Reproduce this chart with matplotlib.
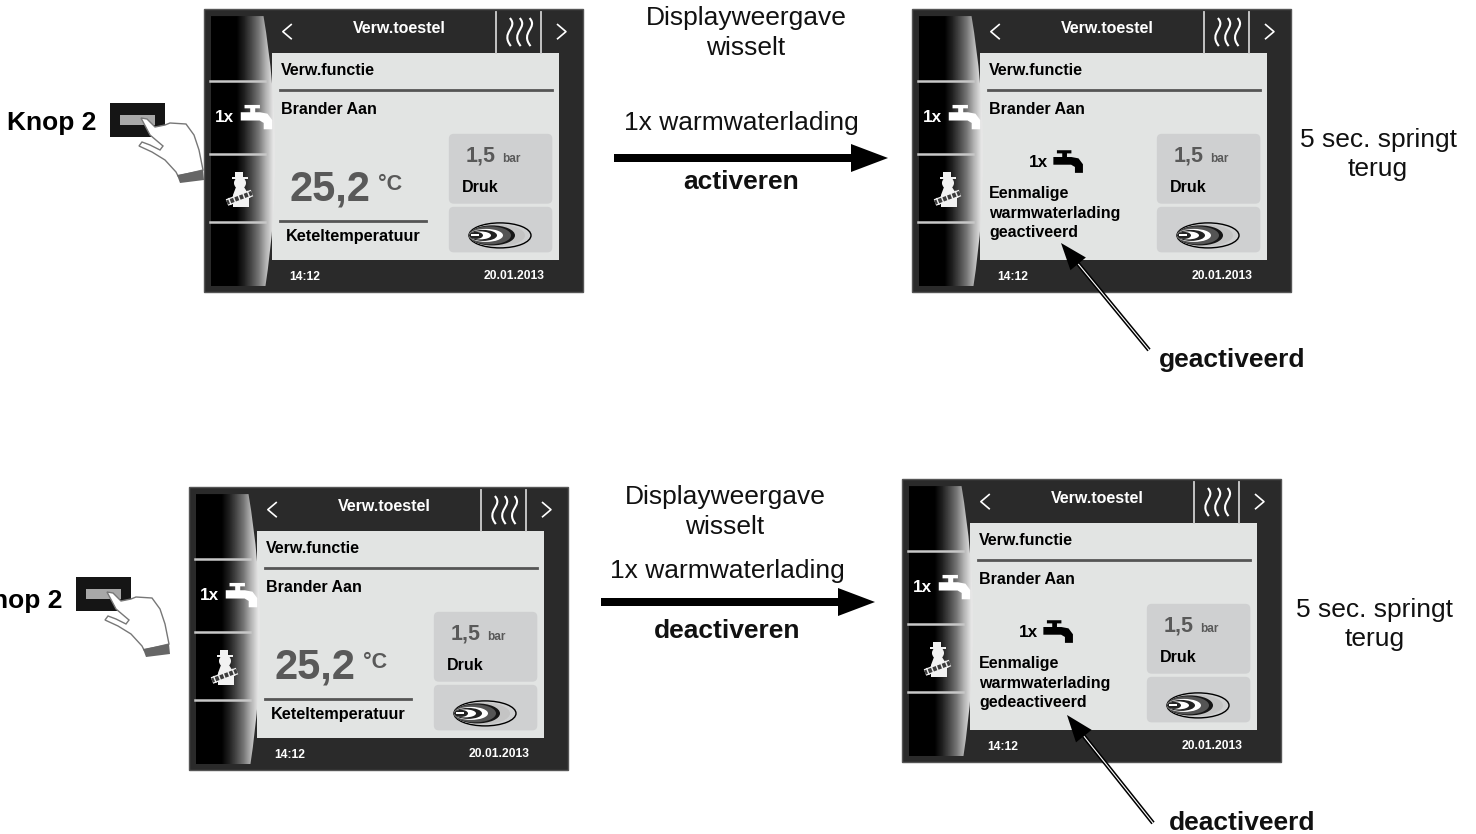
#!/usr/bin/env python
"""Two rows of boiler display screens: hot water charge on and off."""
import matplotlib

matplotlib.use("Agg")
import matplotlib.pyplot as plt
import numpy as np
from matplotlib.patches import Ellipse, FancyBboxPatch, PathPatch, Polygon, Rectangle
from matplotlib.path import Path

plt.rcParams["font.family"] = ["Liberation Sans", "DejaVu Sans"]

# texts shown on the screens
header_title = "Verw.toestel"
screen_function = "Verw.functie"
screen_state = "Brander Aan"
temp_value = "25,2"
temp_unit = "°C"
temp_label = "Keteltemperatuur"
pressure_value = "1,5"
pressure_unit = "bar"
pressure_label = "Druk"
clock_time = "14:12"
clock_date = "20.01.2013"
charge_label = "1x"

# texts around the screens
button_label = "Knop 2"
display_changes = ["Displayweergave", "wisselt"]
charge_action = "1x warmwaterlading"
verbs = ["activeren", "deactiveren"]
jump_back = ["5 sec. springt", "terug"]
results = ["geactiveerd", "deactiveerd"]
message_top = ["Eenmalige", "warmwaterlading", "geactiveerd"]
message_bottom = ["Eenmalige", "warmwaterlading", "gedeactiveerd"]

W, H = 379, 283
BG = "#2a2a2a"
SCREEN = "#e2e4e3"
BOX = "#cfd0d1"
GREY_TXT = "#595959"

fig = plt.figure(figsize=(14.76, 8.34), dpi=100)
ax = fig.add_axes([0, 0, 1, 1])
ax.set_axis_off()


def draw_tap(x, y, w, h, color):
    # tap outline, in 0..1 units of its box
    verts = [(.12, 0), (.61, 0), (.61, .14), (.46, .14), (.46, .3), (.61, .3),
             (.85, .36), (1, .62), (1, 1), (.73, 1), (.73, .74), (.6, .64),
             (0, .64), (0, .3), (.3, .3), (.3, .14), (.12, .14)]
    ax.add_patch(Polygon([(x + a * w, y + b * h) for a, b in verts], fc=color, ec="none", zorder=6))


def draw_snowman(x0, y0):
    white = "#f2f2f2"
    ax.add_patch(Rectangle((x0 + 31, y0 + 163), 8, 6, fc=white, ec="none", zorder=6))
    ax.add_patch(Rectangle((x0 + 28, y0 + 167.5), 16, 2, fc=white, ec="none", zorder=6))
    ax.add_patch(Ellipse((x0 + 36, y0 + 174), 12, 12, fc=white, ec="none", zorder=6))
    body = [(32, 178), (40, 178), (45, 186), (45, 198), (29, 198), (29, 186)]
    ax.add_patch(Polygon([(x0 + a, y0 + b) for a, b in body], fc=white, ec="none", zorder=6))
    # ladder across the body
    p1, p2 = np.array([x0 + 23, y0 + 193.5]), np.array([x0 + 48, y0 + 184])
    xs, ys = zip(p1, p2)
    ax.plot(xs, ys, color=white, lw=5, solid_capstyle="butt", zorder=7)
    ax.plot(xs, ys, color="#3c3c3c", lw=3.2, solid_capstyle="butt", zorder=7)
    u = (p2 - p1) / np.hypot(*(p2 - p1))
    n = np.array([-u[1], u[0]])
    for t in [3, 8, 13, 18, 23]:
        a = p1 + u * t + n * 3
        b = p1 + u * t - n * 3
        ax.plot([a[0], b[0]], [a[1], b[1]], color=white, lw=1, zorder=7)


def draw_flame(cx, cy):
    # nested ellipses, all starting from the same left end
    left = cx - 31
    layers = [(62, 25, BOX, "black"), (56, 22, "#c4c4c4", "none"), (46, 20, "#161616", "none"),
              (42, 18, "#555555", "none"), (34, 13, "white", "none"), (28, 11, "#222222", "none"),
              (22, 8, "white", "none"), (14, 7, "#222222", "none")]
    for w, h, fc, ec in layers:
        ax.add_patch(Ellipse((left + w / 2, cy), w, h, fc=fc, ec=ec, lw=1, zorder=6))
    ax.add_patch(Rectangle((left + 2, cy - 1), 8, 2, fc="white", ec="none", zorder=7))


def draw_waves(x0, y0):
    for f in [.807, .833, .859]:
        x = x0 + f * W
        y = y0 + .032 * H
        verts = [(x, y), (x + 9, y + 10), (x - 10, y + 14), (x + 1, y + 28)]
        codes = [Path.MOVETO, Path.CURVE4, Path.CURVE4, Path.CURVE4]
        ax.add_patch(PathPatch(Path(verts, codes), fc="none", ec="white", lw=1.5, zorder=6))


def draw_panel(x0, y0, message=None):
    fx = lambda f: x0 + f * W
    fy = lambda f: y0 + f * H

    def label(f_x, f_y, s, size, color="black", ha="left", weight="bold"):
        ax.text(fx(f_x), fy(f_y) + 1.2, s, fontsize=size, color=color, ha=ha, va="center", weight=weight, zorder=8)

    ax.add_patch(Rectangle((x0, y0), W, H, fc=BG, ec="#555555", lw=1, zorder=1))
    ax.add_patch(Rectangle((fx(.18), fy(.156)), .756 * W, .73 * H, fc=SCREEN, ec="none", zorder=2))

    # left strip with its bulging right edge, black fading to light
    strip = Path([(fx(.018), fy(.025)), (fx(.157), fy(.025)), (fx(.217), fy(.5)), (fx(.162), fy(.98)),
                  (fx(.018), fy(.98)), (fx(.018), fy(.025))],
                 [Path.MOVETO, Path.LINETO, Path.CURVE3, Path.CURVE3, Path.LINETO, Path.CLOSEPOLY])
    patch = PathPatch(strip, fc="none", ec="none", zorder=3)
    ax.add_patch(patch)
    grad = np.array([[0, 0, 0, 0, .12, .28, .46, .7, .9]])
    im = ax.imshow(grad, cmap="gray", vmin=0, vmax=1, extent=(fx(.018), fx(.19), fy(.98), fy(.025)),
                   aspect="auto", interpolation="bilinear", zorder=3)
    im.set_clip_path(patch)

    for f in [.253, .514, .752]:
        ax.plot([fx(.017), fx(.16)], [fy(f), fy(f)], color="#c8c8c8", lw=1.8, zorder=5)
    for f in [.77, .888]:
        ax.plot([fx(f), fx(f)], [fy(.012), fy(.154)], color="#d0d0d0", lw=1.3, zorder=5)
    for tip, back in [(.208, .23), (.955, .933)]:
        ax.plot([fx(back), fx(tip), fx(back)], [fy(.055), fy(.08), fy(.105)], color="white", lw=1.2, zorder=6)
    draw_waves(x0, y0)

    label(.516, .066, header_title, 11.5, "white", "center")
    label(.203, .213, screen_function, 11.5)
    label(.204, .35, screen_state, 11.5)
    ax.plot([fx(.2), fx(.917)], [fy(.287), fy(.287)], color="#555555", lw=2, zorder=5)

    label(.053, .38, charge_label, 12.3, "white", "center")
    draw_tap(fx(.097), fy(.339), .083 * W, .086 * H, "white")
    draw_snowman(x0, y0)

    # pressure and flame boxes
    for top, bottom in [(.441, .688), (.699, .86)]:
        ax.add_patch(FancyBboxPatch((fx(.646), fy(top)), .273 * W, (bottom - top) * H, fc=BOX, ec="none",
                                    boxstyle="round,pad=0,rounding_size=5", zorder=4))
    label(.729, .515, pressure_value, 15.5, GREY_TXT, "center")
    label(.81, .526, pressure_unit, 8.5, GREY_TXT, "center")
    label(.681, .627, pressure_label, 11.5)
    draw_flame(fx(.781), fy(.80))

    if message is None:
        label(.331, .633, temp_value, 30, GREY_TXT, "center")
        label(.49, .615, temp_unit, 15.5, GREY_TXT, "center")
        ax.plot([fx(.2), fx(.587)], [fy(.75), fy(.75)], color="#555555", lw=2, zorder=5)
        label(.393, .80, temp_label, 11.7, "black", "center")
    else:
        label(.334, .539, charge_label, 12.3, "black", "center")
        draw_tap(fx(.373), fy(.499), .078 * W, .08 * H, "black")
        for f, s in zip([.646, .717, .784], message):
            label(.204, f, s, 11.5)

    label(.265, .941, clock_time, 8.7, "white", "center")
    label(.818, .939, clock_date, 8.7, "white", "center")


def draw_button(dx, dy):
    ax.add_patch(Rectangle((110 + dx, 103 + dy), 55, 34, fc="#151515", ec="none", zorder=2))
    ax.add_patch(Rectangle((120 + dx, 115 + dy), 35, 10, fc="#a8a8a8", ec="none", zorder=3))
    hand = [(141, 118), (147, 119), (155, 127), (165, 125), (170, 123), (186, 124), (194, 135), (199, 150),
            (203, 170), (178, 176), (176, 172), (165, 160), (152, 152), (139, 146), (142, 142), (150, 145),
            (160, 150), (163, 146), (150, 135)]
    ax.add_patch(Polygon([(x + dx, y + dy) for x, y in hand], fc="white", ec="#777777", lw=1, zorder=4))
    cuff = [(177, 175), (203, 170), (204, 180), (180, 183)]
    ax.add_patch(Polygon([(x + dx, y + dy) for x, y in cuff], fc="#666666", ec="none", zorder=4))


def draw_big_arrow(x1, x2, y):
    ax.add_patch(Polygon([(x1, y - 4), (x2 - 37, y - 4), (x2 - 37, y - 14), (x2, y),
                          (x2 - 37, y + 14), (x2 - 37, y + 4), (x1, y + 4)], fc="black", ec="none"))


def draw_pointer(tail, tip):
    tail, tip = np.array(tail, float), np.array(tip, float)
    u = (tip - tail) / np.hypot(*(tip - tail))
    n = np.array([-u[1], u[0]])
    base = tip - u * 27
    ax.plot([tail[0], base[0]], [tail[1], base[1]], color="black", lw=3, solid_capstyle="butt", zorder=9)
    ax.plot([tail[0], base[0]], [tail[1], base[1]], color="white", lw=.8, solid_capstyle="butt", zorder=9)
    ax.add_patch(Polygon([tip, base + n * 10, base - n * 10], fc="black", ec="none", zorder=9))


def text(x, y, s, bold=False, size=19):
    ax.text(x, y + 2, s, fontsize=size, ha="center", va="center", weight="bold" if bold else "normal", color="#111111")


draw_panel(204, 9)
draw_panel(912, 9, message_top)
draw_panel(189, 487)
draw_panel(902, 479, message_bottom)

draw_button(0, 0)
draw_button(-34, 474)
ax.text(7, 123, button_label, fontsize=19, weight="bold", ha="left", va="center")
ax.text(-27, 601, button_label, fontsize=19, weight="bold", ha="left", va="center")

draw_big_arrow(614, 888, 158)
draw_big_arrow(601, 875, 602)
draw_pointer((1149, 350), (1061, 243))
draw_pointer((1153, 823), (1067, 715))

text(746, 16, display_changes[0])
text(746, 46, display_changes[1])
text(741, 121, charge_action)
text(741, 180, verbs[0], True)
text(1378, 138, jump_back[0])
text(1378, 167, jump_back[1])
text(1232, 358, results[0], True)

text(725, 495, display_changes[0])
text(725, 525, display_changes[1])
text(727.5, 569, charge_action)
text(727, 629, verbs[1], True)
text(1375, 608, jump_back[0])
text(1375, 637, jump_back[1])
text(1242, 821, results[1], True)

ax.set_xlim(0, 1476)
ax.set_ylim(834, 0)
fig.savefig("out.png", dpi=100, facecolor="white")
